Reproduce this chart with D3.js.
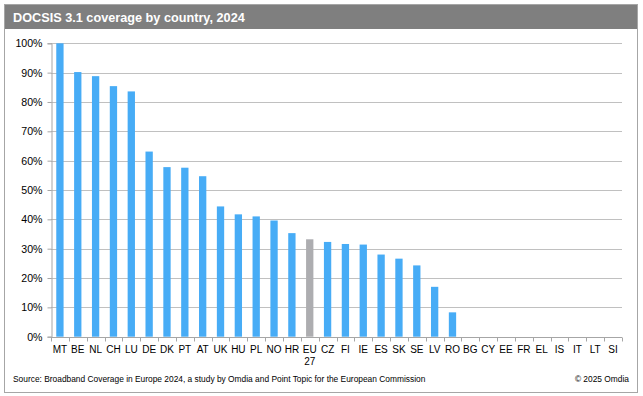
<!DOCTYPE html>
<html lang="en">
<head>
    <meta charset="UTF-8">
    <title>DOCSIS 3.1 coverage by country, 2024</title>
    <script src="https://d3js.org/d3.v7.min.js"></script>
    <style>
        body { margin: 0; background: #fff; }
        text { font-family: "Liberation Sans", Arial, sans-serif; }
    </style>
</head>
<body>

<script>

    var countries = ["MT","BE","NL","CH","LU","DE","DK","PT","AT","UK","HU","PL","NO","HR","EU 27",
        "CZ","FI","IE","ES","SK","SE","LV","RO","BG","CY","EE","FR","EL","IS","IT","LT","SI"];
    var coverage = [100, 90.2, 88.8, 85.4, 83.6, 63.1, 57.8, 57.6, 54.7, 44.4, 41.7, 41.0, 39.6, 35.3, 33.2,
        32.3, 31.6, 31.4, 28.0, 26.6, 24.3, 17.0, 8.3, 0, 0, 0, 0, 0, 0, 0, 0, 0];
    var yTicks = [0, 10, 20, 30, 40, 50, 60, 70, 80, 90, 100];

    var width = 643, height = 396;

    var svg = d3.select("body")
        .append("svg")
        .attr("width", width)
        .attr("height", height);

    // frame + title bar
    svg.append("rect").attr("x", 4.5).attr("y", 4.5).attr("width", 633).attr("height", 388)
        .attr("fill", "#fff").attr("stroke", "#a6a6a6").attr("stroke-width", 1);
    svg.append("rect").attr("x", 5).attr("y", 5).attr("width", 632).attr("height", 24)
        .attr("fill", "#7f7f7f");
    svg.append("text").attr("x", 13).attr("y", 22)
        .attr("fill", "#fff").attr("font-weight", "bold").attr("font-size", 12.7)
        .text("DOCSIS 3.1 coverage by country, 2024");

    var plotL = 51, plotR = 622, plotT = 43.3, plotB = 336.7;

    var x = d3.scaleBand().domain(countries).range([plotL, plotR]).paddingInner(0.59).paddingOuter(0.295);
    var xb = d3.scaleBand().domain(countries).range([plotL, plotR]);
    var y = d3.scaleLinear().domain([0, 100]).range([plotB, plotT]);

    // gridlines
    svg.append("g").selectAll("line").data(yTicks.slice(1)).enter().append("line")
        .attr("x1", plotL).attr("x2", plotR)
        .attr("y1", function (d) { return Math.round(y(d)) + 0.5; })
        .attr("y2", function (d) { return Math.round(y(d)) + 0.5; })
        .attr("stroke", "#c0c0c0").attr("stroke-width", 1.2);

    // bars
    svg.append("g").selectAll("rect").data(countries).enter().append("rect")
        .attr("x", function (d) { return x(d); })
        .attr("width", x.bandwidth())
        .attr("y", function (d, i) { return y(coverage[i]); })
        .attr("height", function (d, i) { return plotB - y(coverage[i]); })
        .attr("fill", function (d) { return d == "EU 27" ? "#adadb0" : "#47acf6"; });

    // y axis
    var yAxis = d3.axisLeft(y).tickValues(yTicks).tickSize(4).tickPadding(5)
        .tickFormat(function (d) { return d + "%"; });
    var gy = svg.append("g").attr("transform", "translate(" + (plotL + 0.5) + ",0)").call(yAxis);
    gy.select(".domain").attr("stroke", "#a6a6a6");
    gy.selectAll(".tick line").attr("stroke", "#a6a6a6");
    gy.selectAll(".tick text").attr("font-size", 10.6).attr("fill", "#000")
        .attr("font-family", "Liberation Sans, Arial, sans-serif");

    // x axis (ticks on category boundaries)
    var gx = svg.append("g").attr("transform", "translate(0," + (Math.round(plotB) + 0.5) + ")");
    gx.append("line").attr("x1", plotL).attr("x2", plotR).attr("stroke", "#a6a6a6");
    gx.selectAll(".bt").data(countries.concat(["end"])).enter().append("line")
        .attr("x1", function (d, i) { return Math.round(i < countries.length ? xb(d) : plotR) + 0.5; })
        .attr("x2", function (d, i) { return Math.round(i < countries.length ? xb(d) : plotR) + 0.5; })
        .attr("y1", 0).attr("y2", 4).attr("stroke", "#a6a6a6");
    var lbl = gx.selectAll(".lbl").data(countries).enter().append("text")
        .attr("text-anchor", "middle").attr("font-size", 10).attr("fill", "#000")
        .attr("transform", function (d) { return "translate(" + (xb(d) + xb.bandwidth() / 2) + ",15)"; });
    lbl.each(function (d) {
        var parts = d.split(" ");
        var t = d3.select(this);
        parts.forEach(function (p, k) {
            t.append("tspan").attr("x", 0).attr("dy", k == 0 ? 0 : 12).text(p);
        });
    });

    // footer
    svg.append("text").attr("x", 13).attr("y", 382).attr("font-size", 8.4).attr("fill", "#000")
        .text("Source: Broadband Coverage in Europe 2024, a study by Omdia and Point Topic for the European Commission");
    svg.append("text").attr("x", 629).attr("y", 382).attr("font-size", 8.4).attr("fill", "#000")
        .attr("text-anchor", "end")
        .text("\u00a9 2025 Omdia");

</script>

</body>
</html>
